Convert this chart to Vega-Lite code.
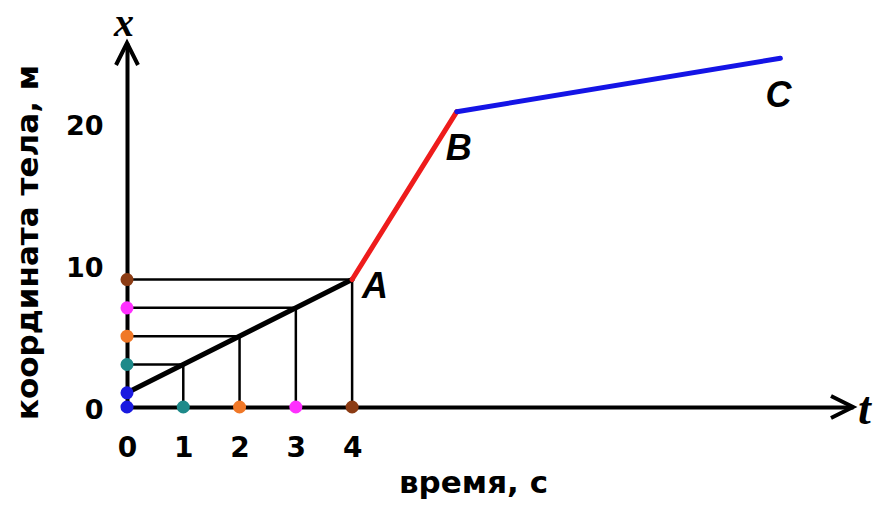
{
  "$schema": "https://vega.github.io/schema/vega-lite/v6.json",
  "width": 726,
  "height": 364,
  "autosize": {"type": "none"},
  "padding": {"left": 127, "top": 43, "right": 26, "bottom": 99},
  "background": "white",
  "config": {"view": {"stroke": null}, "font": "DejaVu Sans"},
  "datasets": {
    "path": [
      {"seg": "OA", "t": 0, "x": 1},
      {"seg": "OA", "t": 4, "x": 9},
      {"seg": "AB", "t": 4, "x": 9},
      {"seg": "AB", "t": 5.86, "x": 20.85},
      {"seg": "BC", "t": 5.86, "x": 20.85},
      {"seg": "BC", "t": 11.61, "x": 24.62}
    ],
    "samples": [
      {"t": 0, "x": 1, "c": "s0"},
      {"t": 1, "x": 3, "c": "s1"},
      {"t": 2, "x": 5, "c": "s2"},
      {"t": 3, "x": 7, "c": "s3"},
      {"t": 4, "x": 9, "c": "s4"}
    ],
    "points": [
      {"name": "A", "t": 4, "x": 9},
      {"name": "B", "t": 5.86, "x": 20.85},
      {"name": "C", "t": 11.61, "x": 24.62}
    ],
    "arrows": [
      {"dir": "up", "name": "x", "t": 0, "x": 25.7},
      {"dir": "right", "name": "t", "t": 12.9, "x": 0}
    ]
  },
  "encoding": {
    "x": {
      "field": "t",
      "type": "quantitative",
      "title": "время, с",
      "scale": {"domain": [0, 12.9], "nice": false, "zero": false},
      "axis": {
        "values": [0, 1, 2, 3, 4],
        "grid": false,
        "ticks": false,
        "tickSize": 0,
        "domainColor": "black",
        "domainWidth": 4,
        "labelFont": "DejaVu Sans",
        "labelFontWeight": "bold",
        "labelFontSize": 28,
        "labelColor": "black",
        "labelPadding": 27,
        "labelBaseline": "top",
        "labelFlush": false,
        "titleFont": "DejaVu Sans",
        "titleFontWeight": "bold",
        "titleFontSize": 31,
        "titleColor": "black",
        "titleX": 346,
        "titleY": 76,
        "titleBaseline": "middle",
        "titleAnchor": null
      }
    },
    "y": {
      "field": "x",
      "type": "quantitative",
      "title": "координата тела, м",
      "scale": {"domain": [0, 25.7], "nice": false, "zero": false},
      "axis": {
        "values": [0, 10, 20],
        "grid": false,
        "ticks": false,
        "tickSize": 0,
        "domainColor": "black",
        "domainWidth": 4,
        "labelFont": "DejaVu Sans",
        "labelFontWeight": "bold",
        "labelFontSize": 27,
        "labelColor": "black",
        "labelPadding": 24,
        "labelBaseline": "middle",
        "labelOffset": 3,
        "labelFlush": false,
        "titleFont": "DejaVu Sans",
        "titleFontWeight": "bold",
        "titleFontSize": 31,
        "titleColor": "black",
        "titleAngle": -90,
        "titleX": -99,
        "titleY": 199,
        "titleBaseline": "middle",
        "titleAnchor": null
      }
    }
  },
  "layer": [
    {
      "data": {"name": "samples"},
      "transform": [{"filter": "datum.t > 0"}],
      "mark": {"type": "rule", "color": "black", "strokeWidth": 2.5},
      "encoding": {"x2": {"datum": 0}}
    },
    {
      "data": {"name": "samples"},
      "transform": [{"filter": "datum.t > 0"}],
      "mark": {"type": "rule", "color": "black", "strokeWidth": 2.5},
      "encoding": {"y2": {"datum": 0}}
    },
    {
      "data": {"name": "path"},
      "mark": {"type": "line", "strokeWidth": 5, "strokeCap": "round"},
      "encoding": {
        "detail": {"field": "seg"},
        "stroke": {
          "field": "seg",
          "type": "nominal",
          "scale": {"domain": ["OA", "AB", "BC"], "range": ["black", "#ee1c1c", "#1414e6"]},
          "legend": null
        }
      }
    },
    {
      "data": {"name": "samples"},
      "mark": {"type": "point", "filled": true, "size": 170, "opacity": 1},
      "encoding": {
        "x": {"datum": 0},
        "fill": {
          "field": "c",
          "type": "nominal",
          "scale": {"domain": ["s0", "s1", "s2", "s3", "s4"], "range": ["#1a1ae0", "#1e8a8a", "#f07828", "#ff30ff", "#8c3c14"]},
          "legend": null
        }
      }
    },
    {
      "data": {"name": "samples"},
      "mark": {"type": "point", "filled": true, "size": 170, "opacity": 1},
      "encoding": {
        "y": {"datum": 0},
        "fill": {"field": "c", "type": "nominal", "legend": null}
      }
    },
    {
      "data": {"name": "arrows"},
      "mark": {"type": "point", "filled": false, "size": 484, "stroke": "black", "strokeWidth": 4, "strokeJoin": "miter", "opacity": 1},
      "encoding": {
        "shape": {
          "field": "dir",
          "type": "nominal",
          "scale": {"domain": ["up", "right"], "range": ["M-1,2L0,0L1,2", "M-2,-1L0,0L-2,1"]},
          "legend": null
        }
      }
    },
    {
      "data": {"name": "arrows"},
      "transform": [{"filter": "datum.dir == 'up'"}],
      "mark": {"type": "text", "font": "Liberation Serif", "fontStyle": "italic", "fontWeight": "bold", "fontSize": 40, "align": "center", "baseline": "alphabetic", "dx": -3, "dy": -7, "color": "black"},
      "encoding": {"text": {"field": "name"}}
    },
    {
      "data": {"name": "arrows"},
      "transform": [{"filter": "datum.dir == 'right'"}],
      "mark": {"type": "text", "font": "Liberation Serif", "fontStyle": "italic", "fontWeight": "bold", "fontSize": 46, "align": "left", "baseline": "alphabetic", "dx": 5, "dy": 17, "color": "black"},
      "encoding": {"text": {"field": "name"}}
    },
    {
      "data": {"name": "points"},
      "transform": [{"filter": "datum.name == 'A'"}],
      "mark": {"type": "text", "font": "Liberation Sans", "fontStyle": "italic", "fontWeight": "bold", "fontSize": 36, "align": "left", "baseline": "alphabetic", "dx": 10, "dy": 18, "color": "black"},
      "encoding": {"text": {"field": "name"}}
    },
    {
      "data": {"name": "points"},
      "transform": [{"filter": "datum.name == 'B'"}],
      "mark": {"type": "text", "font": "Liberation Sans", "fontStyle": "italic", "fontWeight": "bold", "fontSize": 36, "align": "left", "baseline": "alphabetic", "dx": -11, "dy": 48, "color": "black"},
      "encoding": {"text": {"field": "name"}}
    },
    {
      "data": {"name": "points"},
      "transform": [{"filter": "datum.name == 'C'"}],
      "mark": {"type": "text", "font": "Liberation Sans", "fontStyle": "italic", "fontWeight": "bold", "fontSize": 36, "align": "left", "baseline": "alphabetic", "dx": -15, "dy": 49, "color": "black"},
      "encoding": {"text": {"field": "name"}}
    }
  ]
}
